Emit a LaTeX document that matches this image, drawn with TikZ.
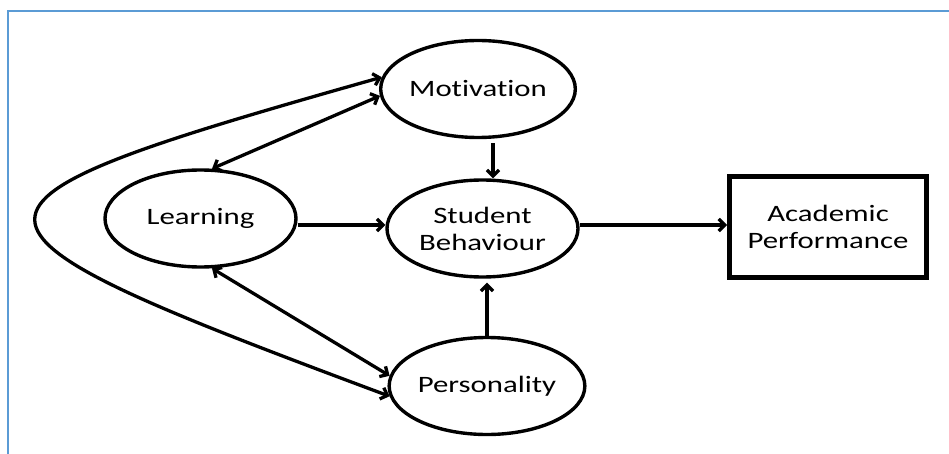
\documentclass[tikz,border=0pt]{standalone}
\usepackage{fontspec}
\setmainfont{Carlito}[FakeStretch=1.31, Ligatures={NoCommon}]
\usetikzlibrary{shapes.geometric,arrows.meta}
\definecolor{frameblue}{HTML}{5B9BD5}
\begin{document}
\begin{tikzpicture}[x=1pt,y=-1pt,
  every node/.style={font=\fontsize{23.5}{27}\selectfont, align=center, text=black},
  factor/.style={ellipse, draw, line width=3.4pt, inner sep=0pt,
                 minimum width=191pt, minimum height=97pt},
  outcome/.style={rectangle, draw, line width=5pt, inner sep=0pt,
                  minimum width=197pt, minimum height=101pt},
  link/.style={line width=3.3pt, -{Straight Barb[length=6pt,width=12pt]}},
  mutual/.style={line width=3.3pt, {Straight Barb[length=6pt,width=12pt]}-{Straight Barb[length=6pt,width=12pt]}}]

  % page frame
  \useasboundingbox (0,0) rectangle (949,454);
  \begin{scope}
    \clip (0,0) rectangle (949,454);
    \draw[frameblue, line width=2.5pt] (8,470) -- (8,11) -- (970,11);
  \end{scope}

  % factors and outcome
  \node[factor]  (mot) at (478,89)      {Motivation};
  \node[factor]  (lrn) at (200.5,218.5) {Learning};
  \node[factor]  (stu) at (482.5,228.5) {Student\\Behaviour};
  \node[factor]  (per) at (487,386)     {Personality};
  \node[outcome] (acd) at (828,227)     {Academic\\Performance};

  % row of the horizontal links
  \coordinate (row) at (0,225);

  % direct effects
  \draw[link] ([xshift=15pt,yshift=-4pt]mot.south) -- ([xshift=15pt]mot.south |- stu.north);
  \draw[link] (per.north) -- ([yshift=-4pt]per.north |- stu.south);
  \draw[link] (lrn.east |- row) -- (stu.west |- row);
  \draw[link] (stu.east |- row) -- (acd.west |- row);

  % mutual influences
  \draw[mutual] (lrn.77) -- (mot.184);
  \draw[mutual] (lrn.283) -- (per.174);
  \draw[mutual] (mot.173) .. controls (-81,208) and (-81,221) .. (per.186);
\end{tikzpicture}
\end{document}
